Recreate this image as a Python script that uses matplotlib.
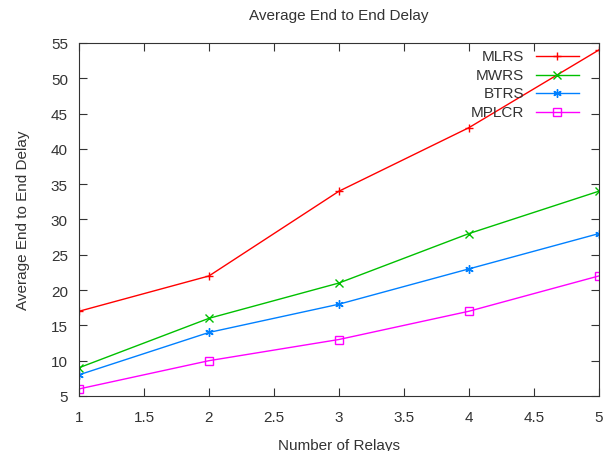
import matplotlib
matplotlib.use("Agg")
import matplotlib.pyplot as plt

relays = [1, 2, 3, 4, 5]
mlrs = [17, 22, 34, 43, 54]
mwrs = [9, 16, 21, 28, 34]
btrs = [8, 14, 18, 23, 28]
mplcr = [6, 10, 13, 17, 22]

names = ["MLRS", "MWRS", "BTRS", "MPLCR"]
colors = ["#ff0000", "#00c000", "#0080ff", "#ff00ff"]
markers = ["+", "x", (6, 2, 0), "s"]

plt.rcParams["font.family"] = ["Liberation Sans", "DejaVu Sans"]
TXT = "#333333"

fig = plt.figure(figsize=(6.11, 4.52), dpi=100)
ax = fig.add_axes([0.1293, 0.1217, 0.8507, 0.781])

# gnuplot-style key: right-aligned label, then a short sample line with marker
key_rows = [0.963, 0.909, 0.858, 0.805]
for vals, name, c, m, ky in zip([mlrs, mwrs, btrs, mplcr], names, colors, markers, key_rows):
    mfc = "none" if m == "s" else c
    ax.plot(relays, vals, color=c, marker=m, markersize=6, mfc=mfc, lw=1)
    ax.plot([0.879, 0.9615], [ky, ky], color=c, lw=1, transform=ax.transAxes, clip_on=False)
    ax.plot([0.92], [ky], color=c, marker=m, markersize=6, mfc=mfc,
            transform=ax.transAxes, clip_on=False)
    ax.text(0.856, ky, name, transform=ax.transAxes, ha="right", va="center",
            fontsize=11, color=TXT)

ax.set_xlim(1, 5)
ax.set_ylim(5, 55)
ax.set_xticks([1, 1.5, 2, 2.5, 3, 3.5, 4, 4.5, 5])
ax.set_xticklabels(["1", "1.5", "2", "2.5", "3", "3.5", "4", "4.5", "5"])
ax.set_yticks(range(5, 56, 5))
ax.tick_params(direction="in", top=True, right=True, length=6, labelsize=11, colors=TXT)
ax.tick_params(axis="x", pad=10)
ax.tick_params(axis="y", pad=8)
for s in ax.spines.values():
    s.set_color(TXT)

ax.set_title("Average End to End Delay", fontsize=11, color=TXT, pad=17)
ax.set_xlabel("Number of Relays", fontsize=11, color=TXT, labelpad=10)
ax.set_ylabel("Average End to End Delay", fontsize=11, color=TXT, labelpad=15)

fig.savefig("out.png", dpi=100)
